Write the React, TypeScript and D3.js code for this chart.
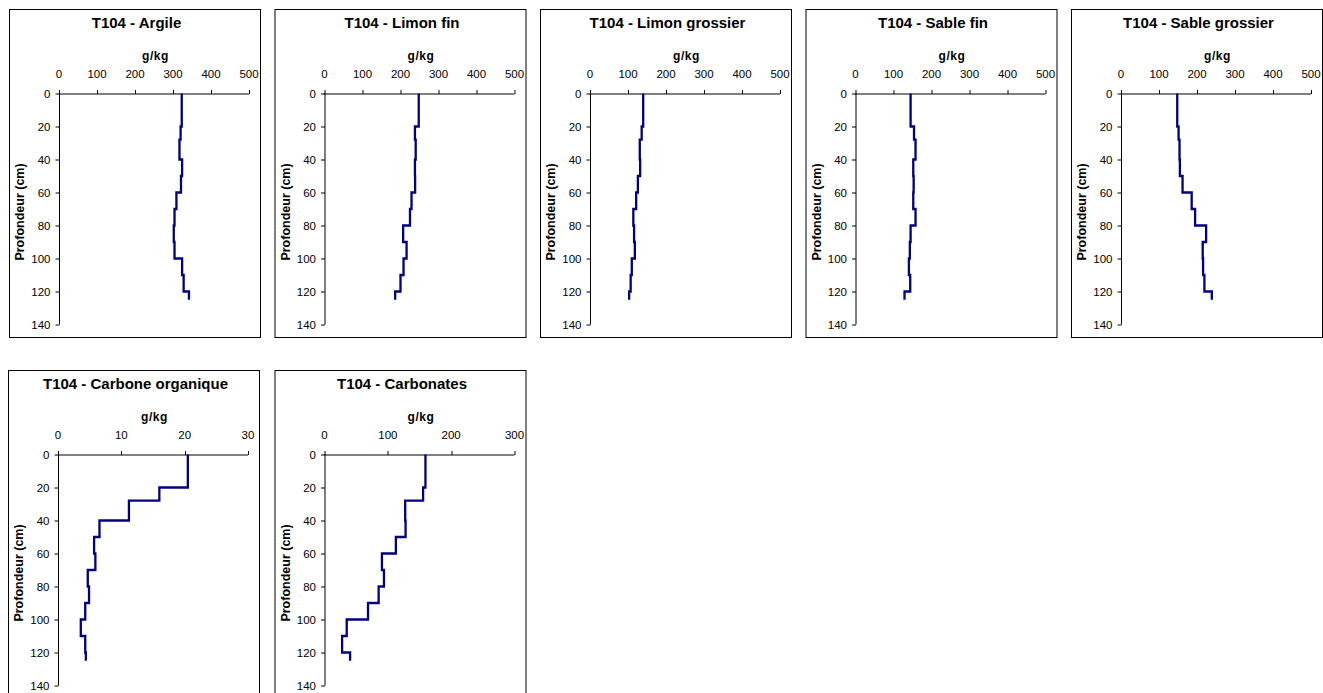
import React from "react";
import * as d3 from "d3";

const depths = [0, 20, 28, 40, 50, 60, 70, 80, 90, 100, 110, 120, 125];

const titles = [
  "T104 - Argile",
  "T104 - Limon fin",
  "T104 - Limon grossier",
  "T104 - Sable fin",
  "T104 - Sable grossier",
  "T104 - Carbone organique",
  "T104 - Carbonates",
];

const argile = [323, 320, 317, 324, 321, 309, 304, 302, 304, 324, 328, 342];
const limonFin = [248, 238, 240, 238, 238.5, 229, 225, 207, 216, 208, 200, 186];
const limonGrossier = [140, 136, 131, 132, 126, 121.5, 114, 116, 118, 110, 107, 103];
const sableFin = [145, 154, 158, 152, 153, 152, 158, 145, 143, 140.5, 144, 129];
const sableGrossier = [148, 151.5, 154, 155, 162, 186, 195, 224, 215, 216, 219.5, 239];
const carboneOrganique = [20.5, 16.0, 11.2, 6.55, 5.7, 5.9, 4.7, 4.9, 4.3, 3.6, 4.3, 4.4];
const carbonates = [159.4, 155.7, 127.4, 128, 112.7, 90.7, 93.9, 85.5, 68.7, 35.1, 27.8, 40.4];

const series = [argile, limonFin, limonGrossier, sableFin, sableGrossier, carboneOrganique, carbonates];
const xMaxes = [500, 500, 500, 500, 500, 30, 300];
const xTicks500 = [0, 100, 200, 300, 400, 500];
const xTicks30 = [0, 10, 20, 30];
const xTicks300 = [0, 100, 200, 300];
const xTickSets = [xTicks500, xTicks500, xTicks500, xTicks500, xTicks500, xTicks30, xTicks300];
const yTicks = [0, 20, 40, 60, 80, 100, 120, 140];

const xUnit = "g/kg";
const yLabel = "Profondeur (cm)";

const FONT = "'Liberation Sans', Arial, Helvetica, sans-serif";
const LINE = "#000080";

const panelW = 251;
const panelH = 328;
const plotX = 50;
const plotY = 84.5;
const plotW = 190;
const plotH = 231;

function Panel({ idx, left, top }: { idx: number; left: number; top: number }) {
  const x = d3.scaleLinear().domain([0, xMaxes[idx]]).range([0, plotW]);
  const y = d3.scaleLinear().domain([0, 140]).range([0, plotH]);
  const vals = series[idx];
  const pts: [number, number][] = [];
  vals.forEach((v, i) => {
    pts.push([v, depths[i]]);
    pts.push([v, depths[i + 1]]);
  });
  const line = d3
    .line<[number, number]>()
    .x((d) => x(d[0]))
    .y((d) => y(d[1]));
  return (
    <g transform={`translate(${left},${top})`}>
      <rect x={0.5} y={0.5} width={panelW} height={panelH} fill="#fff" stroke="#000" strokeWidth={1} />
      <text
        x={panelW / 2 + 2}
        y={18.5}
        textAnchor="middle"
        fontFamily={FONT}
        fontWeight="bold"
        fontSize={15}
        fill="#000"
      >
        {titles[idx]}
      </text>
      <g transform={`translate(${plotX},${plotY})`}>
        <text
          x={plotW / 2 + 1.5}
          y={-34}
          textAnchor="middle"
          fontFamily={FONT}
          fontWeight="bold"
          fontSize={12}
          letterSpacing={0.6}
          fill="#000"
        >
          {xUnit}
        </text>
        <text
          transform={`translate(${-35},${plotH / 2 + 3}) rotate(-90)`}
          textAnchor="middle"
          fontFamily={FONT}
          fontWeight="bold"
          fontSize={12.5}
          fill="#000"
        >
          {yLabel}
        </text>
        <line x1={0} x2={plotW} y1={0.5} y2={0.5} stroke="#000" strokeWidth={1} />
        {xTickSets[idx].map((t) => (
          <g key={"x" + t}>
            <line x1={Math.round(x(t)) + 0.5} x2={Math.round(x(t)) + 0.5} y1={0.5} y2={-3.5} stroke="#000" />
            <text
              x={x(t)}
              y={-16}
              textAnchor="middle"
              fontFamily={FONT}
              fontSize={11.5}
              fill="#000"
            >
              {t}
            </text>
          </g>
        ))}
        <line x1={0.5} x2={0.5} y1={0} y2={plotH} stroke="#000" strokeWidth={1} />
        {yTicks.map((t) => (
          <g key={"y" + t}>
            <line x1={0.5} x2={-3.5} y1={Math.round(y(t)) + 0.5} y2={Math.round(y(t)) + 0.5} stroke="#000" />
            <text
              x={-8.5}
              y={y(t)}
              dy="0.35em"
              textAnchor="end"
              fontFamily={FONT}
              fontSize={11.5}
              fill="#000"
            >
              {t}
            </text>
          </g>
        ))}
        <path d={line(pts) || ""} fill="none" stroke={LINE} strokeWidth={2.3} strokeLinejoin="miter" />
      </g>
    </g>
  );
}

const positions = [
  { left: 9, top: 9 },
  { left: 274.5, top: 9 },
  { left: 540, top: 9 },
  { left: 805.5, top: 9 },
  { left: 1071, top: 9 },
  { left: 8, top: 370 },
  { left: 274.5, top: 370 },
];

export default function App() {
  return (
    <svg
      width={1323}
      height={693}
      style={{ position: "absolute", left: 0, top: 0, background: "#fff", display: "block" }}
    >
      <rect width={1323} height={693} fill="#fff" />
      {positions.map((p, i) => (
        <Panel key={i} idx={i} left={p.left} top={p.top} />
      ))}
    </svg>
  );
}
